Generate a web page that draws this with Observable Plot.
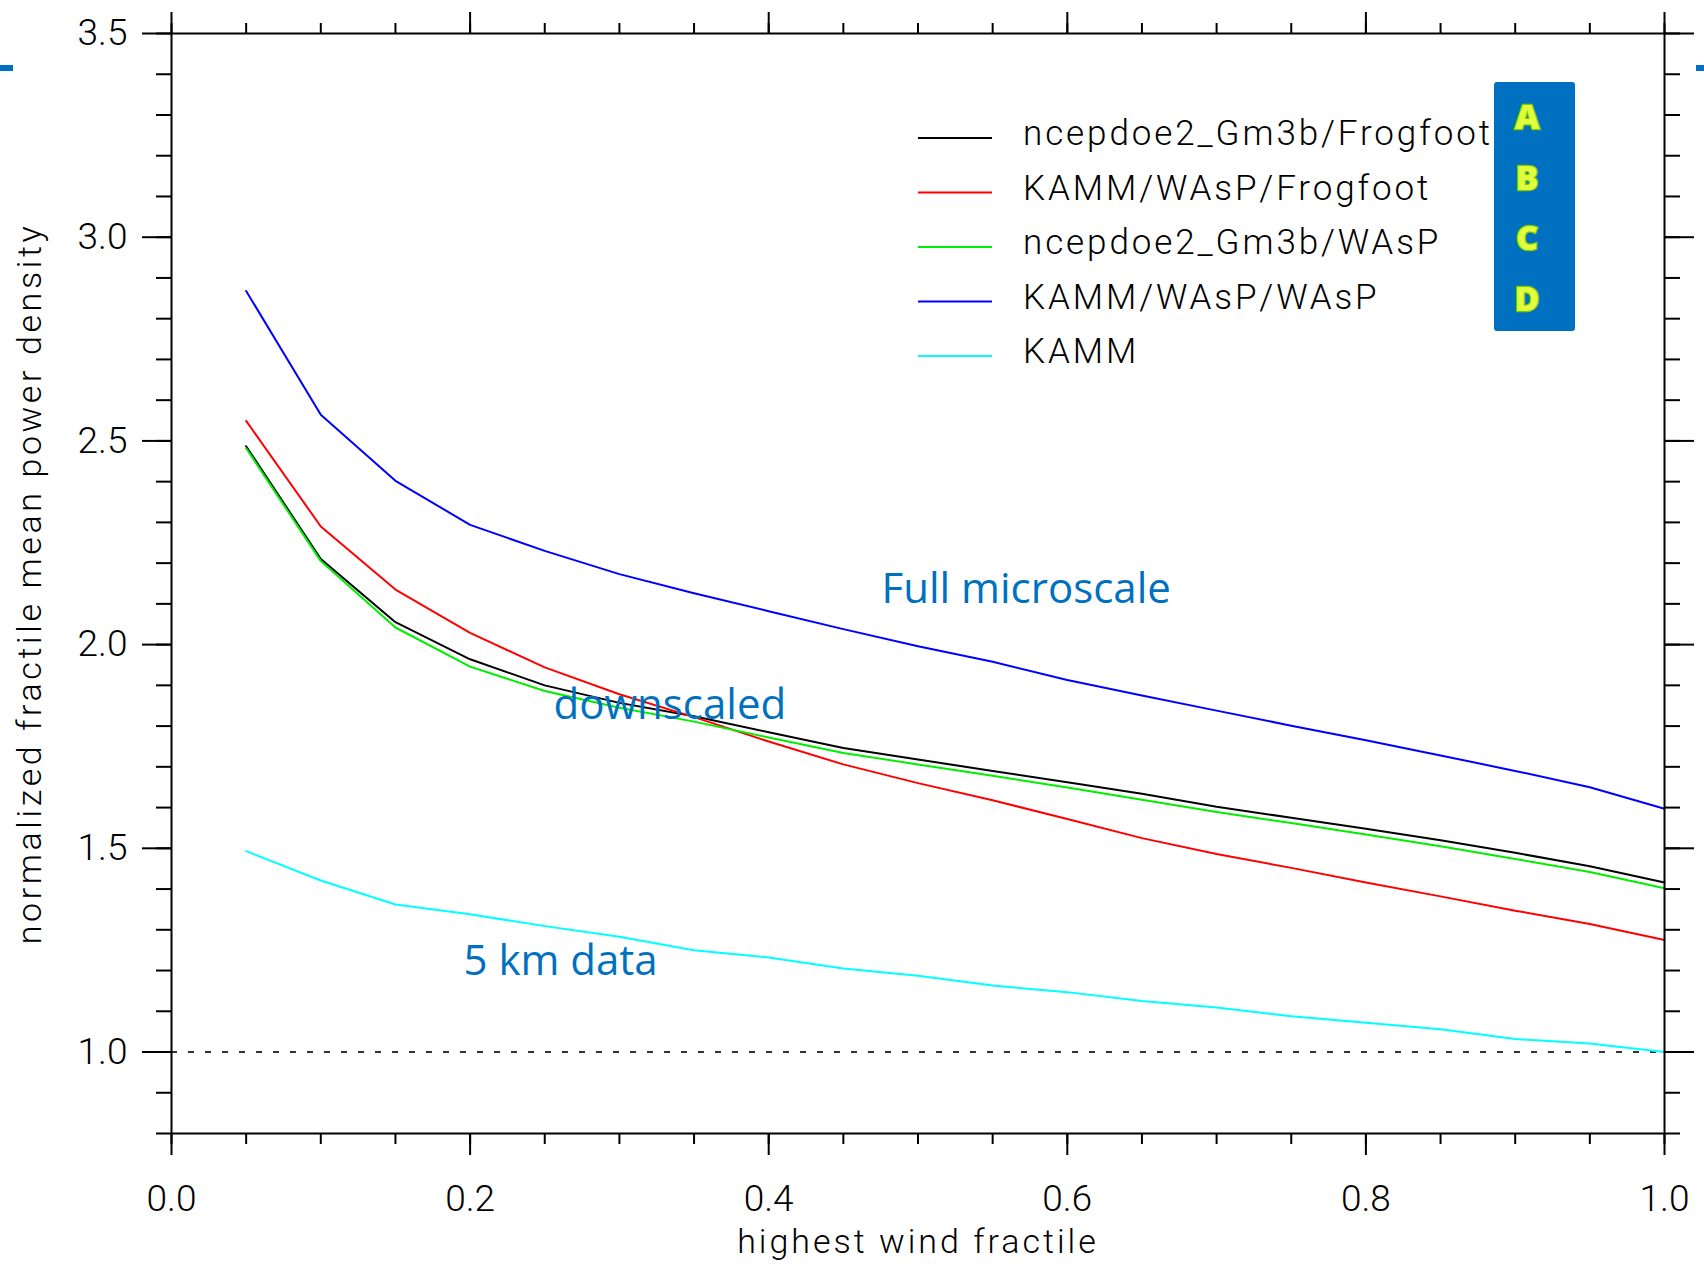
<!DOCTYPE html>
<html><head><meta charset="utf-8">
<script src="https://cdn.jsdelivr.net/npm/d3@7"></script>
<script src="https://cdn.jsdelivr.net/npm/@observablehq/plot@0.6"></script>
<style>
html,body{margin:0;padding:0;background:#fff;}
#wrap{position:relative;width:1704px;height:1265px;overflow:hidden;background:#fff;}
#overlay{position:absolute;left:0;top:0;pointer-events:none;}
.edge{position:absolute;background:#0070C0;height:6px;top:65px;}
</style></head><body><div id="wrap"></div>
<script>
// ---- data ----
const fractile = [0.05,0.10,0.15,0.20,0.25,0.30,0.35,0.40,0.45,0.50,0.55,0.60,0.65,0.70,0.75,0.80,0.85,0.90,0.95,1.00];
const seriesNames = ["ncepdoe2_Gm3b/Frogfoot","KAMM/WAsP/Frogfoot","ncepdoe2_Gm3b/WAsP","KAMM/WAsP/WAsP","KAMM"];
const seriesColors = ["#000000","#ff0000","#00ee00","#0000ff","#00ffff"];
const ncepFrogfoot = [2.487,2.210,2.055,1.964,1.900,1.857,1.824,1.785,1.746,1.718,1.690,1.662,1.634,1.602,1.575,1.548,1.520,1.489,1.456,1.416];
const kammWaspFrogfoot = [2.549,2.290,2.135,2.029,1.944,1.878,1.822,1.762,1.706,1.660,1.618,1.572,1.525,1.486,1.452,1.416,1.382,1.347,1.314,1.275];
const ncepWasp = [2.482,2.205,2.042,1.946,1.886,1.845,1.811,1.772,1.734,1.706,1.678,1.649,1.619,1.589,1.562,1.534,1.505,1.474,1.442,1.402];
const kammWaspWasp = [2.868,2.564,2.402,2.294,2.230,2.173,2.126,2.082,2.038,1.996,1.958,1.913,1.875,1.838,1.801,1.765,1.728,1.690,1.650,1.597];
const kamm = [1.493,1.421,1.362,1.338,1.309,1.283,1.250,1.232,1.205,1.187,1.163,1.147,1.125,1.109,1.088,1.072,1.056,1.032,1.021,1.000];
const seriesValues = [ncepFrogfoot,kammWaspFrogfoot,ncepWasp,kammWaspWasp,kamm];
const referenceLevel = [1.0];
const xMajorTicks = [0,0.2,0.4,0.6,0.8,1.0];
const xMinorTicks = [0,0.05,0.1,0.15,0.2,0.25,0.3,0.35,0.4,0.45,0.5,0.55,0.6,0.65,0.7,0.75,0.8,0.85,0.9,0.95,1.0];
const yMajorTicks = [1.0,1.5,2.0,2.5,3.0,3.5];
const yMinorTicks = [0.8,0.9,1.0,1.1,1.2,1.3,1.4,1.5,1.6,1.7,1.8,1.9,2.0,2.1,2.2,2.3,2.4,2.5,2.6,2.7,2.8,2.9,3.0,3.1,3.2,3.3,3.4,3.5];
const xTitle = "highest wind fractile";
const yTitle = "normalized fractile mean power density";
const boxLetters = ["A","B","C","D"];
const annotationTexts = ["Full microscale","downscaled","5 km data"];

// ---- build ----
const rows = [];
seriesNames.forEach((name,i)=>fractile.forEach((f,j)=>rows.push({series:name,fractile:f,value:seriesValues[i][j]})));

const W = 1704, H = 1265;
const axisFont = "Roboto, 'DejaVu Sans', sans-serif";
const annFont = "'Open Sans', sans-serif";
const fmt = d => d.toFixed(1);
const blank = () => "";

const chart = Plot.plot({
  width: W, height: H,
  marginLeft: 171, marginRight: 40, marginTop: 33, marginBottom: 132,
  x: {domain: [0,1], label: null},
  y: {domain: [0.8,3.5], label: null},
  color: {domain: seriesNames, range: seriesColors},
  style: {fontFamily: axisFont, fontWeight: 300, fontSize: "37px", background: "white", color: "black", overflow: "visible"},
  marks: [
    Plot.ruleY(referenceLevel, {stroke: "#333", strokeWidth: 2, strokeDasharray: "6,11"}),
    ...seriesNames.map(name => Plot.line(rows.filter(r => r.series === name), {x: "fractile", y: "value", stroke: "series", strokeWidth: 2})),
    Plot.axisX(xMajorTicks, {anchor: "bottom", tickSize: 22, tickPadding: 29, tickFormat: fmt, strokeWidth: 2, label: null}),
    Plot.axisX(xMinorTicks, {anchor: "bottom", tickSize: 11, tickFormat: blank, strokeWidth: 2, label: null}),
    Plot.axisX(xMajorTicks, {anchor: "top", tickSize: 22, tickFormat: blank, strokeWidth: 2, label: null}),
    Plot.axisX(xMinorTicks, {anchor: "top", tickSize: 11, tickFormat: blank, strokeWidth: 2, label: null}),
    Plot.axisY(yMajorTicks, {anchor: "left", tickSize: 29, tickPadding: 15, tickFormat: fmt, strokeWidth: 2, label: null}),
    Plot.axisY(yMinorTicks, {anchor: "left", tickSize: 15, tickFormat: blank, strokeWidth: 2, label: null}),
    Plot.axisY(yMajorTicks, {anchor: "right", tickSize: 29, tickFormat: blank, strokeWidth: 2, label: null}),
    Plot.axisY(yMinorTicks, {anchor: "right", tickSize: 15, tickFormat: blank, strokeWidth: 2, label: null}),
    Plot.frame({stroke: "black", strokeWidth: 2}),
    Plot.text([xTitle], {text: d => d, frameAnchor: "bottom", textAnchor: "middle", dy: 109, lineAnchor: "middle", fontSize: 34, fill: "black"}),
    Plot.text([yTitle], {text: d => d, frameAnchor: "left", textAnchor: "middle", dx: -141, rotate: -90, lineAnchor: "middle", fontSize: 34, fill: "black"}),
    Plot.text([annotationTexts[0]], {x: 0.4756, y: 2.102, text: d => d, textAnchor: "start", lineAnchor: "bottom", fill: "#0070C0", fontSize: 42, fontWeight: 400, fontFamily: annFont}),
    Plot.text([annotationTexts[1]], {x: 0.2559, y: 1.818, text: d => d, textAnchor: "start", lineAnchor: "bottom", fill: "#0070C0", fontSize: 42, fontWeight: 400, fontFamily: annFont}),
    Plot.text([annotationTexts[2]], {x: 0.1956, y: 1.190, text: d => d, textAnchor: "start", lineAnchor: "bottom", fill: "#0070C0", fontSize: 42, fontWeight: 400, fontFamily: annFont})
  ]
});

const wrap = document.getElementById("wrap");
wrap.appendChild(chart);
d3.select(chart).selectAll("text").filter(function(){ return this.textContent === xTitle; }).style("letter-spacing", "3px");
d3.select(chart).selectAll("text").filter(function(){ return this.textContent === yTitle; }).style("letter-spacing", "3.6px");

// ---- overlay: legend + letter box ----
const ov = d3.select(wrap).append("svg").attr("id","overlay").attr("width", W).attr("height", H);
const legY0 = 138, legStep = 54.5;
seriesNames.forEach((name,i)=>{
  const y = legY0 + i*legStep;
  ov.append("line").attr("x1",918).attr("x2",992).attr("y1",y).attr("y2",y).attr("stroke",seriesColors[i]).attr("stroke-width",2);
  ov.append("text").attr("x",1023).attr("y",y+7).text(name)
    .attr("font-family",axisFont).attr("font-weight",300).attr("font-size",35).attr("letter-spacing","2.9px").attr("fill","black");
});
ov.append("rect").attr("x",1494).attr("y",82).attr("width",81).attr("height",249).attr("rx",3).attr("fill","#0070C0");
boxLetters.forEach((L,i)=>{
  ov.append("text").attr("x",1527).attr("y",117 + i*60.5).attr("dy","0.36em").attr("text-anchor","middle")
    .text(L).attr("font-family",annFont).attr("font-weight",800).attr("font-size",34)
    .attr("fill","#E0FF3C").attr("stroke","#78C800").attr("stroke-width",2.5).attr("paint-order","stroke");
});
// slide edge marks
wrap.insertAdjacentHTML("beforeend", '<div class="edge" style="left:0;width:13px"></div><div class="edge" style="left:1696px;width:8px"></div>');
</script></body></html>
